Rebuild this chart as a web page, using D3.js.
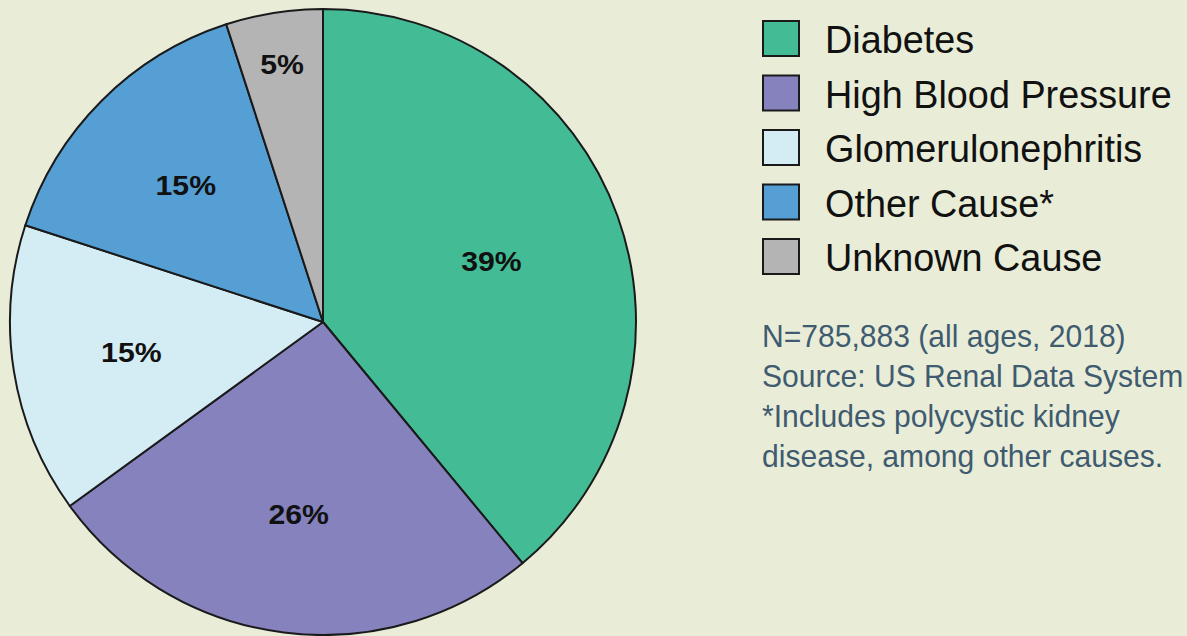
<!DOCTYPE html>
<html><head><meta charset="utf-8">
<script src="https://cdn.jsdelivr.net/npm/d3@7"></script>
<style>
html,body{margin:0;padding:0;background:#e9edd7;}
svg{display:block;}
</style></head>
<body>
<svg id="chart" width="1187" height="636"></svg>
<script>
const categories = ["Diabetes", "High Blood Pressure", "Glomerulonephritis", "Other Cause*", "Unknown Cause"];
const values = [39, 26, 15, 15, 5];
const colors = ["#43bc96", "#8582bd", "#d4ecf3", "#559fd4", "#b4b4b4"];
const notes = ["N=785,883 (all ages, 2018)", "Source: US Renal Data System", "*Includes polycystic kidney", "disease, among other causes."];

const svg = d3.select("#chart");
svg.append("rect").attr("width",1187).attr("height",636).attr("fill","#e9edd7");

const cx = 323, cy = 322, r = 313;
const data = categories.map((c,i)=>({cat:c, value:values[i], color:colors[i]}));
const pie = d3.pie().value(d=>d.value).sort(null);
const arcs = pie(data);
const arc = d3.arc().innerRadius(0).outerRadius(r);
const g = svg.append("g").attr("transform",`translate(${cx},${cy})`);
g.selectAll("path").data(arcs).join("path")
  .attr("d",arc).attr("fill",d=>d.data.color)
  .attr("stroke","#1a1a1a").attr("stroke-width",2).attr("stroke-linejoin","round");

g.selectAll("text.lbl").data(arcs).join("text").attr("class","lbl")
  .attr("transform",d=>{
    const rr = d.data.value < 10 ? r*0.835 : (d.data.value > 30 ? r*0.572 : r*0.62);
    const a = (d.startAngle+d.endAngle)/2;
    return `translate(${rr*Math.sin(a)},${-rr*Math.cos(a)}) scale(1.12,1)`;
  })
  .attr("text-anchor","middle").attr("dy","0.36em")
  .attr("font-family","'Liberation Sans', Arial, sans-serif")
  .attr("font-weight","bold").attr("font-size",27).attr("fill","#111")
  .text(d=>d.data.value+"%");

const lg = svg.append("g").attr("transform","translate(762,20)");
const rows = lg.selectAll("g").data(data).join("g").attr("transform",(d,i)=>`translate(0,${i*54.5})`);
rows.append("rect").attr("x",1).attr("y",1).attr("width",36).attr("height",35)
  .attr("fill",d=>d.color).attr("stroke","#1a1a1a").attr("stroke-width",2);
rows.append("text").attr("transform","translate(63,33) scale(0.957,1)")
  .attr("font-family","'Liberation Sans', Arial, sans-serif")
  .attr("font-size",39.5).attr("fill","#111")
  .text(d=>d.cat);

const ng = svg.append("g").attr("transform","translate(762,0)");
ng.selectAll("text").data(notes).join("text")
  .attr("transform",(d,i)=>`translate(0,${347+i*40}) scale(0.94,1)`)
  .attr("font-family","'Liberation Sans', Arial, sans-serif")
  .attr("font-size",32).attr("fill","#3f5b70")
  .text(d=>d);
</script>
</body></html>
